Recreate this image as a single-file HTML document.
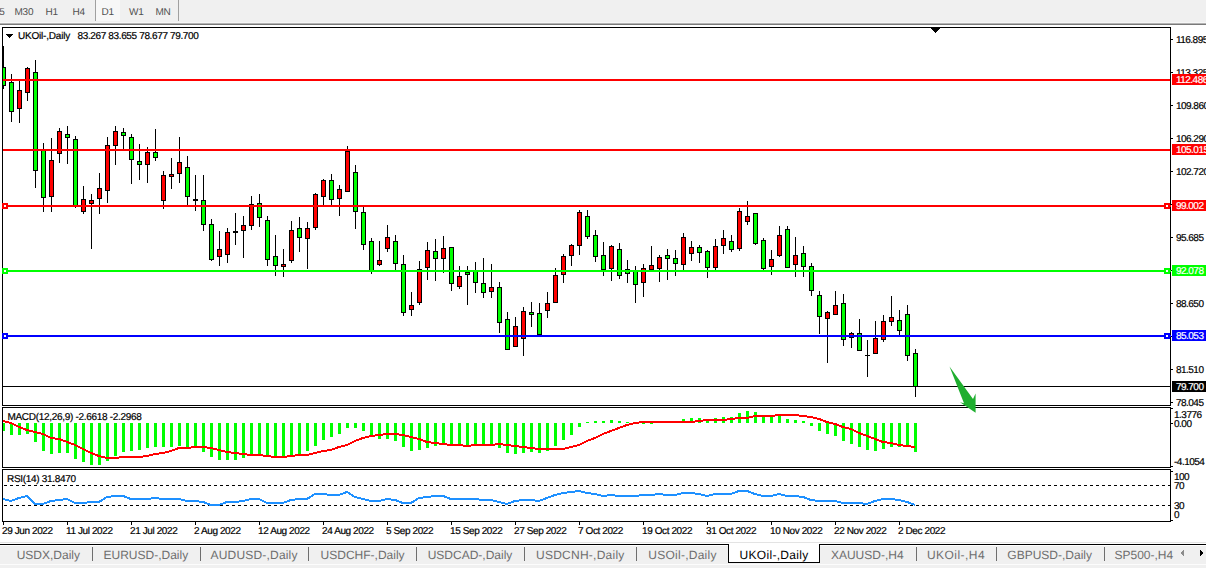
<!DOCTYPE html>
<html><head><meta charset="utf-8"><title>UKOil Daily</title>
<style>
html,body{margin:0;padding:0;background:#fff;width:1206px;height:568px;overflow:hidden;}
svg{display:block;font-family:"Liberation Sans",sans-serif;}
text{text-rendering:geometricPrecision;}
</style></head><body>
<svg width="1206" height="568" viewBox="0 0 1206 568" shape-rendering="crispEdges" font-family="Liberation Sans, sans-serif">
<defs>
<clipPath id="cmain"><rect x="3" y="28" width="1167" height="377"/></clipPath>
<clipPath id="cmacd"><rect x="3" y="408" width="1167" height="59"/></clipPath>
<clipPath id="crsi"><rect x="3" y="470" width="1167" height="51"/></clipPath>
</defs>
<rect width="1206" height="568" fill="#fff"/>
<rect x="0" y="0" width="1206" height="22" fill="#f0f0f0"/>
<rect x="0" y="22" width="1206" height="1" fill="#f7f7f7"/>
<rect x="0" y="23" width="1206" height="1" fill="#b4b4b4"/>
<rect x="0" y="24" width="1206" height="1" fill="#7a7a7a"/>
<rect x="96" y="0" width="24" height="21" fill="#f7f7f7"/>
<rect x="95" y="0" width="1" height="21" fill="#a0a0a0"/>
<rect x="178" y="0" width="1" height="21" fill="#a0a0a0"/>
<text x="-0.8" y="15" font-size="10" fill="#505050" letter-spacing="-0.3">5</text>
<text x="14.6" y="15" font-size="10" fill="#505050" letter-spacing="-0.3">M30</text>
<text x="45.6" y="15" font-size="10" fill="#505050" letter-spacing="-0.3">H1</text>
<text x="72.5" y="15" font-size="10" fill="#505050" letter-spacing="-0.3">H4</text>
<text x="101.5" y="15" font-size="10" fill="#505050" letter-spacing="-0.3">D1</text>
<text x="129" y="15" font-size="10" fill="#505050" letter-spacing="-0.3">W1</text>
<text x="155.4" y="15" font-size="10" fill="#505050" letter-spacing="-0.3">MN</text>
<rect x="2" y="27" width="1169" height="1" fill="#000"/>
<rect x="2" y="405" width="1169" height="1" fill="#000"/>
<rect x="2" y="27" width="1" height="379" fill="#000"/>
<rect x="1170" y="27" width="1" height="379" fill="#000"/>
<rect x="2" y="407" width="1169" height="1" fill="#000"/>
<rect x="2" y="467" width="1169" height="1" fill="#000"/>
<rect x="2" y="407" width="1" height="61" fill="#000"/>
<rect x="1170" y="407" width="1" height="61" fill="#000"/>
<rect x="2" y="469" width="1169" height="1" fill="#000"/>
<rect x="2" y="521" width="1169" height="1" fill="#000"/>
<rect x="2" y="469" width="1" height="53" fill="#000"/>
<rect x="1170" y="469" width="1" height="53" fill="#000"/>
<g clip-path="url(#cmain)">
<rect x="3" y="46" width="1" height="43" fill="#000"/>
<rect x="1" y="67" width="5" height="19" fill="#000"/>
<rect x="2" y="68" width="3" height="17" fill="#00ff00"/>
<rect x="11" y="74" width="1" height="48" fill="#000"/>
<rect x="9" y="82" width="5" height="30" fill="#000"/>
<rect x="10" y="83" width="3" height="28" fill="#00ff00"/>
<rect x="19" y="81" width="1" height="42" fill="#000"/>
<rect x="17" y="90" width="5" height="19" fill="#000"/>
<rect x="18" y="91" width="3" height="17" fill="#ff0000"/>
<rect x="27" y="67" width="1" height="34" fill="#000"/>
<rect x="25" y="68" width="5" height="25" fill="#000"/>
<rect x="26" y="69" width="3" height="23" fill="#ff0000"/>
<rect x="35" y="60" width="1" height="128" fill="#000"/>
<rect x="33" y="72" width="5" height="99" fill="#000"/>
<rect x="34" y="73" width="3" height="97" fill="#00ff00"/>
<rect x="43" y="143" width="1" height="69" fill="#000"/>
<rect x="41" y="150" width="5" height="48" fill="#000"/>
<rect x="42" y="151" width="3" height="46" fill="#00ff00"/>
<rect x="51" y="138" width="1" height="74" fill="#000"/>
<rect x="49" y="160" width="5" height="37" fill="#000"/>
<rect x="50" y="161" width="3" height="35" fill="#ff0000"/>
<rect x="59" y="128" width="1" height="35" fill="#000"/>
<rect x="57" y="131" width="5" height="23" fill="#000"/>
<rect x="58" y="132" width="3" height="21" fill="#ff0000"/>
<rect x="67" y="126" width="1" height="38" fill="#000"/>
<rect x="65" y="134" width="5" height="4" fill="#000"/>
<rect x="66" y="135" width="3" height="2" fill="#00ff00"/>
<rect x="75" y="136" width="1" height="72" fill="#000"/>
<rect x="73" y="139" width="5" height="67" fill="#000"/>
<rect x="74" y="140" width="3" height="65" fill="#00ff00"/>
<rect x="83" y="186" width="1" height="28" fill="#000"/>
<rect x="81" y="199" width="5" height="13" fill="#000"/>
<rect x="82" y="200" width="3" height="11" fill="#ff0000"/>
<rect x="91" y="194" width="1" height="55" fill="#000"/>
<rect x="89" y="200" width="5" height="4" fill="#000"/>
<rect x="90" y="201" width="3" height="2" fill="#ff0000"/>
<rect x="99" y="173" width="1" height="41" fill="#000"/>
<rect x="97" y="188" width="5" height="11" fill="#000"/>
<rect x="98" y="189" width="3" height="9" fill="#ff0000"/>
<rect x="107" y="137" width="1" height="66" fill="#000"/>
<rect x="105" y="145" width="5" height="46" fill="#000"/>
<rect x="106" y="146" width="3" height="44" fill="#ff0000"/>
<rect x="115" y="126" width="1" height="39" fill="#000"/>
<rect x="113" y="131" width="5" height="15" fill="#000"/>
<rect x="114" y="132" width="3" height="13" fill="#ff0000"/>
<rect x="123" y="128" width="1" height="21" fill="#000"/>
<rect x="121" y="132" width="5" height="4" fill="#000"/>
<rect x="122" y="133" width="3" height="2" fill="#00ff00"/>
<rect x="131" y="134" width="1" height="50" fill="#000"/>
<rect x="129" y="137" width="5" height="23" fill="#000"/>
<rect x="130" y="138" width="3" height="21" fill="#00ff00"/>
<rect x="139" y="144" width="1" height="36" fill="#000"/>
<rect x="137" y="161" width="5" height="4" fill="#000"/>
<rect x="138" y="162" width="3" height="2" fill="#00ff00"/>
<rect x="147" y="147" width="1" height="36" fill="#000"/>
<rect x="145" y="152" width="5" height="13" fill="#000"/>
<rect x="146" y="153" width="3" height="11" fill="#ff0000"/>
<rect x="155" y="129" width="1" height="32" fill="#000"/>
<rect x="153" y="152" width="5" height="6" fill="#000"/>
<rect x="154" y="153" width="3" height="4" fill="#00ff00"/>
<rect x="163" y="171" width="1" height="38" fill="#000"/>
<rect x="161" y="175" width="5" height="26" fill="#000"/>
<rect x="162" y="176" width="3" height="24" fill="#ff0000"/>
<rect x="171" y="158" width="1" height="31" fill="#000"/>
<rect x="169" y="174" width="5" height="3" fill="#000"/>
<rect x="170" y="175" width="3" height="1" fill="#ff0000"/>
<rect x="179" y="137" width="1" height="46" fill="#000"/>
<rect x="177" y="162" width="5" height="12" fill="#000"/>
<rect x="178" y="163" width="3" height="10" fill="#ff0000"/>
<rect x="187" y="156" width="1" height="49" fill="#000"/>
<rect x="185" y="167" width="5" height="30" fill="#000"/>
<rect x="186" y="168" width="3" height="28" fill="#00ff00"/>
<rect x="195" y="175" width="1" height="36" fill="#000"/>
<rect x="193" y="199" width="5" height="2" fill="#000"/>
<rect x="203" y="175" width="1" height="56" fill="#000"/>
<rect x="201" y="200" width="5" height="25" fill="#000"/>
<rect x="202" y="201" width="3" height="23" fill="#00ff00"/>
<rect x="211" y="219" width="1" height="42" fill="#000"/>
<rect x="209" y="224" width="5" height="36" fill="#000"/>
<rect x="210" y="225" width="3" height="34" fill="#00ff00"/>
<rect x="219" y="231" width="1" height="35" fill="#000"/>
<rect x="217" y="249" width="5" height="8" fill="#000"/>
<rect x="218" y="250" width="3" height="6" fill="#ff0000"/>
<rect x="227" y="228" width="1" height="35" fill="#000"/>
<rect x="225" y="232" width="5" height="23" fill="#000"/>
<rect x="226" y="233" width="3" height="21" fill="#ff0000"/>
<rect x="235" y="213" width="1" height="32" fill="#000"/>
<rect x="233" y="231" width="5" height="2" fill="#000"/>
<rect x="243" y="216" width="1" height="42" fill="#000"/>
<rect x="241" y="225" width="5" height="6" fill="#000"/>
<rect x="242" y="226" width="3" height="4" fill="#ff0000"/>
<rect x="251" y="196" width="1" height="34" fill="#000"/>
<rect x="249" y="204" width="5" height="22" fill="#000"/>
<rect x="250" y="205" width="3" height="20" fill="#ff0000"/>
<rect x="259" y="194" width="1" height="33" fill="#000"/>
<rect x="257" y="203" width="5" height="15" fill="#000"/>
<rect x="258" y="204" width="3" height="13" fill="#00ff00"/>
<rect x="267" y="216" width="1" height="50" fill="#000"/>
<rect x="265" y="220" width="5" height="40" fill="#000"/>
<rect x="266" y="221" width="3" height="38" fill="#00ff00"/>
<rect x="275" y="235" width="1" height="41" fill="#000"/>
<rect x="273" y="256" width="5" height="10" fill="#000"/>
<rect x="274" y="257" width="3" height="8" fill="#00ff00"/>
<rect x="283" y="249" width="1" height="28" fill="#000"/>
<rect x="281" y="264" width="5" height="3" fill="#000"/>
<rect x="282" y="265" width="3" height="1" fill="#ff0000"/>
<rect x="291" y="221" width="1" height="42" fill="#000"/>
<rect x="289" y="230" width="5" height="31" fill="#000"/>
<rect x="290" y="231" width="3" height="29" fill="#ff0000"/>
<rect x="299" y="217" width="1" height="35" fill="#000"/>
<rect x="297" y="228" width="5" height="10" fill="#000"/>
<rect x="298" y="229" width="3" height="8" fill="#00ff00"/>
<rect x="307" y="222" width="1" height="47" fill="#000"/>
<rect x="305" y="228" width="5" height="11" fill="#000"/>
<rect x="306" y="229" width="3" height="9" fill="#ff0000"/>
<rect x="315" y="193" width="1" height="37" fill="#000"/>
<rect x="313" y="194" width="5" height="34" fill="#000"/>
<rect x="314" y="195" width="3" height="32" fill="#ff0000"/>
<rect x="323" y="179" width="1" height="26" fill="#000"/>
<rect x="321" y="180" width="5" height="17" fill="#000"/>
<rect x="322" y="181" width="3" height="15" fill="#ff0000"/>
<rect x="331" y="174" width="1" height="31" fill="#000"/>
<rect x="329" y="180" width="5" height="20" fill="#000"/>
<rect x="330" y="181" width="3" height="18" fill="#00ff00"/>
<rect x="339" y="185" width="1" height="31" fill="#000"/>
<rect x="337" y="189" width="5" height="10" fill="#000"/>
<rect x="338" y="190" width="3" height="8" fill="#ff0000"/>
<rect x="347" y="146" width="1" height="46" fill="#000"/>
<rect x="345" y="151" width="5" height="41" fill="#000"/>
<rect x="346" y="152" width="3" height="39" fill="#ff0000"/>
<rect x="355" y="165" width="1" height="64" fill="#000"/>
<rect x="353" y="172" width="5" height="40" fill="#000"/>
<rect x="354" y="173" width="3" height="38" fill="#00ff00"/>
<rect x="363" y="207" width="1" height="43" fill="#000"/>
<rect x="361" y="212" width="5" height="33" fill="#000"/>
<rect x="362" y="213" width="3" height="31" fill="#00ff00"/>
<rect x="371" y="238" width="1" height="36" fill="#000"/>
<rect x="369" y="241" width="5" height="30" fill="#000"/>
<rect x="370" y="242" width="3" height="28" fill="#00ff00"/>
<rect x="379" y="241" width="1" height="25" fill="#000"/>
<rect x="377" y="260" width="5" height="5" fill="#000"/>
<rect x="378" y="261" width="3" height="3" fill="#ff0000"/>
<rect x="387" y="225" width="1" height="27" fill="#000"/>
<rect x="385" y="237" width="5" height="12" fill="#000"/>
<rect x="386" y="238" width="3" height="10" fill="#ff0000"/>
<rect x="395" y="235" width="1" height="35" fill="#000"/>
<rect x="393" y="241" width="5" height="23" fill="#000"/>
<rect x="394" y="242" width="3" height="21" fill="#00ff00"/>
<rect x="403" y="255" width="1" height="61" fill="#000"/>
<rect x="401" y="264" width="5" height="49" fill="#000"/>
<rect x="402" y="265" width="3" height="47" fill="#00ff00"/>
<rect x="411" y="292" width="1" height="24" fill="#000"/>
<rect x="409" y="305" width="5" height="5" fill="#000"/>
<rect x="410" y="306" width="3" height="3" fill="#ff0000"/>
<rect x="419" y="261" width="1" height="44" fill="#000"/>
<rect x="417" y="269" width="5" height="34" fill="#000"/>
<rect x="418" y="270" width="3" height="32" fill="#ff0000"/>
<rect x="427" y="242" width="1" height="38" fill="#000"/>
<rect x="425" y="250" width="5" height="18" fill="#000"/>
<rect x="426" y="251" width="3" height="16" fill="#ff0000"/>
<rect x="435" y="239" width="1" height="42" fill="#000"/>
<rect x="433" y="251" width="5" height="8" fill="#000"/>
<rect x="434" y="252" width="3" height="6" fill="#00ff00"/>
<rect x="443" y="236" width="1" height="37" fill="#000"/>
<rect x="441" y="248" width="5" height="11" fill="#000"/>
<rect x="442" y="249" width="3" height="9" fill="#ff0000"/>
<rect x="451" y="247" width="1" height="44" fill="#000"/>
<rect x="449" y="247" width="5" height="37" fill="#000"/>
<rect x="450" y="248" width="3" height="35" fill="#00ff00"/>
<rect x="459" y="266" width="1" height="23" fill="#000"/>
<rect x="457" y="276" width="5" height="11" fill="#000"/>
<rect x="458" y="277" width="3" height="9" fill="#ff0000"/>
<rect x="467" y="266" width="1" height="39" fill="#000"/>
<rect x="465" y="272" width="5" height="3" fill="#000"/>
<rect x="466" y="273" width="3" height="1" fill="#00ff00"/>
<rect x="475" y="262" width="1" height="31" fill="#000"/>
<rect x="473" y="271" width="5" height="12" fill="#000"/>
<rect x="474" y="272" width="3" height="10" fill="#00ff00"/>
<rect x="483" y="258" width="1" height="40" fill="#000"/>
<rect x="481" y="283" width="5" height="10" fill="#000"/>
<rect x="482" y="284" width="3" height="8" fill="#00ff00"/>
<rect x="491" y="264" width="1" height="34" fill="#000"/>
<rect x="489" y="287" width="5" height="5" fill="#000"/>
<rect x="490" y="288" width="3" height="3" fill="#ff0000"/>
<rect x="499" y="282" width="1" height="51" fill="#000"/>
<rect x="497" y="287" width="5" height="36" fill="#000"/>
<rect x="498" y="288" width="3" height="34" fill="#00ff00"/>
<rect x="507" y="312" width="1" height="38" fill="#000"/>
<rect x="505" y="319" width="5" height="31" fill="#000"/>
<rect x="506" y="320" width="3" height="29" fill="#00ff00"/>
<rect x="515" y="317" width="1" height="30" fill="#000"/>
<rect x="513" y="326" width="5" height="21" fill="#000"/>
<rect x="514" y="327" width="3" height="19" fill="#ff0000"/>
<rect x="523" y="307" width="1" height="49" fill="#000"/>
<rect x="521" y="311" width="5" height="28" fill="#000"/>
<rect x="522" y="312" width="3" height="26" fill="#ff0000"/>
<rect x="531" y="302" width="1" height="25" fill="#000"/>
<rect x="529" y="312" width="5" height="3" fill="#000"/>
<rect x="530" y="313" width="3" height="1" fill="#00ff00"/>
<rect x="539" y="303" width="1" height="34" fill="#000"/>
<rect x="537" y="313" width="5" height="22" fill="#000"/>
<rect x="538" y="314" width="3" height="20" fill="#00ff00"/>
<rect x="547" y="292" width="1" height="26" fill="#000"/>
<rect x="545" y="303" width="5" height="8" fill="#000"/>
<rect x="546" y="304" width="3" height="6" fill="#ff0000"/>
<rect x="555" y="268" width="1" height="35" fill="#000"/>
<rect x="553" y="275" width="5" height="28" fill="#000"/>
<rect x="554" y="276" width="3" height="26" fill="#ff0000"/>
<rect x="563" y="254" width="1" height="29" fill="#000"/>
<rect x="561" y="256" width="5" height="19" fill="#000"/>
<rect x="562" y="257" width="3" height="17" fill="#ff0000"/>
<rect x="571" y="244" width="1" height="22" fill="#000"/>
<rect x="569" y="245" width="5" height="11" fill="#000"/>
<rect x="570" y="246" width="3" height="9" fill="#ff0000"/>
<rect x="579" y="210" width="1" height="45" fill="#000"/>
<rect x="577" y="212" width="5" height="34" fill="#000"/>
<rect x="578" y="213" width="3" height="32" fill="#ff0000"/>
<rect x="587" y="210" width="1" height="29" fill="#000"/>
<rect x="585" y="216" width="5" height="21" fill="#000"/>
<rect x="586" y="217" width="3" height="19" fill="#00ff00"/>
<rect x="595" y="230" width="1" height="32" fill="#000"/>
<rect x="593" y="235" width="5" height="22" fill="#000"/>
<rect x="594" y="236" width="3" height="20" fill="#00ff00"/>
<rect x="603" y="242" width="1" height="34" fill="#000"/>
<rect x="601" y="255" width="5" height="15" fill="#000"/>
<rect x="602" y="256" width="3" height="13" fill="#00ff00"/>
<rect x="611" y="245" width="1" height="36" fill="#000"/>
<rect x="609" y="246" width="5" height="23" fill="#000"/>
<rect x="610" y="247" width="3" height="21" fill="#ff0000"/>
<rect x="619" y="243" width="1" height="36" fill="#000"/>
<rect x="617" y="249" width="5" height="27" fill="#000"/>
<rect x="618" y="250" width="3" height="25" fill="#00ff00"/>
<rect x="627" y="260" width="1" height="23" fill="#000"/>
<rect x="625" y="269" width="5" height="5" fill="#000"/>
<rect x="626" y="270" width="3" height="3" fill="#00ff00"/>
<rect x="635" y="266" width="1" height="37" fill="#000"/>
<rect x="633" y="271" width="5" height="14" fill="#000"/>
<rect x="634" y="272" width="3" height="12" fill="#00ff00"/>
<rect x="643" y="264" width="1" height="33" fill="#000"/>
<rect x="641" y="268" width="5" height="15" fill="#000"/>
<rect x="642" y="269" width="3" height="13" fill="#ff0000"/>
<rect x="651" y="246" width="1" height="26" fill="#000"/>
<rect x="649" y="265" width="5" height="5" fill="#000"/>
<rect x="650" y="266" width="3" height="3" fill="#ff0000"/>
<rect x="659" y="255" width="1" height="27" fill="#000"/>
<rect x="657" y="257" width="5" height="12" fill="#000"/>
<rect x="658" y="258" width="3" height="10" fill="#ff0000"/>
<rect x="667" y="249" width="1" height="31" fill="#000"/>
<rect x="665" y="255" width="5" height="4" fill="#000"/>
<rect x="666" y="256" width="3" height="2" fill="#00ff00"/>
<rect x="675" y="250" width="1" height="26" fill="#000"/>
<rect x="673" y="258" width="5" height="6" fill="#000"/>
<rect x="674" y="259" width="3" height="4" fill="#00ff00"/>
<rect x="683" y="233" width="1" height="37" fill="#000"/>
<rect x="681" y="237" width="5" height="28" fill="#000"/>
<rect x="682" y="238" width="3" height="26" fill="#ff0000"/>
<rect x="691" y="241" width="1" height="20" fill="#000"/>
<rect x="689" y="247" width="5" height="7" fill="#000"/>
<rect x="690" y="248" width="3" height="5" fill="#ff0000"/>
<rect x="699" y="245" width="1" height="18" fill="#000"/>
<rect x="697" y="247" width="5" height="6" fill="#000"/>
<rect x="698" y="248" width="3" height="4" fill="#00ff00"/>
<rect x="707" y="250" width="1" height="28" fill="#000"/>
<rect x="705" y="251" width="5" height="17" fill="#000"/>
<rect x="706" y="252" width="3" height="15" fill="#00ff00"/>
<rect x="715" y="239" width="1" height="31" fill="#000"/>
<rect x="713" y="246" width="5" height="22" fill="#000"/>
<rect x="714" y="247" width="3" height="20" fill="#ff0000"/>
<rect x="723" y="230" width="1" height="24" fill="#000"/>
<rect x="721" y="238" width="5" height="8" fill="#000"/>
<rect x="722" y="239" width="3" height="6" fill="#ff0000"/>
<rect x="731" y="235" width="1" height="17" fill="#000"/>
<rect x="729" y="241" width="5" height="9" fill="#000"/>
<rect x="730" y="242" width="3" height="7" fill="#00ff00"/>
<rect x="739" y="208" width="1" height="43" fill="#000"/>
<rect x="737" y="211" width="5" height="38" fill="#000"/>
<rect x="738" y="212" width="3" height="36" fill="#ff0000"/>
<rect x="747" y="201" width="1" height="24" fill="#000"/>
<rect x="745" y="216" width="5" height="6" fill="#000"/>
<rect x="746" y="217" width="3" height="4" fill="#ff0000"/>
<rect x="755" y="213" width="1" height="32" fill="#000"/>
<rect x="753" y="213" width="5" height="31" fill="#000"/>
<rect x="754" y="214" width="3" height="29" fill="#00ff00"/>
<rect x="763" y="238" width="1" height="32" fill="#000"/>
<rect x="761" y="240" width="5" height="29" fill="#000"/>
<rect x="762" y="241" width="3" height="27" fill="#00ff00"/>
<rect x="771" y="250" width="1" height="25" fill="#000"/>
<rect x="769" y="259" width="5" height="8" fill="#000"/>
<rect x="770" y="260" width="3" height="6" fill="#ff0000"/>
<rect x="779" y="226" width="1" height="31" fill="#000"/>
<rect x="777" y="235" width="5" height="21" fill="#000"/>
<rect x="778" y="236" width="3" height="19" fill="#ff0000"/>
<rect x="787" y="226" width="1" height="42" fill="#000"/>
<rect x="785" y="229" width="5" height="39" fill="#000"/>
<rect x="786" y="230" width="3" height="37" fill="#00ff00"/>
<rect x="795" y="237" width="1" height="40" fill="#000"/>
<rect x="793" y="255" width="5" height="10" fill="#000"/>
<rect x="794" y="256" width="3" height="8" fill="#ff0000"/>
<rect x="803" y="246" width="1" height="31" fill="#000"/>
<rect x="801" y="253" width="5" height="14" fill="#000"/>
<rect x="802" y="254" width="3" height="12" fill="#00ff00"/>
<rect x="811" y="263" width="1" height="33" fill="#000"/>
<rect x="809" y="266" width="5" height="25" fill="#000"/>
<rect x="810" y="267" width="3" height="23" fill="#00ff00"/>
<rect x="819" y="291" width="1" height="43" fill="#000"/>
<rect x="817" y="295" width="5" height="22" fill="#000"/>
<rect x="818" y="296" width="3" height="20" fill="#00ff00"/>
<rect x="827" y="311" width="1" height="52" fill="#000"/>
<rect x="825" y="312" width="5" height="7" fill="#000"/>
<rect x="826" y="313" width="3" height="5" fill="#ff0000"/>
<rect x="835" y="291" width="1" height="24" fill="#000"/>
<rect x="833" y="305" width="5" height="10" fill="#000"/>
<rect x="834" y="306" width="3" height="8" fill="#ff0000"/>
<rect x="843" y="294" width="1" height="52" fill="#000"/>
<rect x="841" y="303" width="5" height="37" fill="#000"/>
<rect x="842" y="304" width="3" height="35" fill="#00ff00"/>
<rect x="851" y="332" width="1" height="16" fill="#000"/>
<rect x="849" y="333" width="5" height="5" fill="#000"/>
<rect x="850" y="334" width="3" height="3" fill="#ff0000"/>
<rect x="859" y="319" width="1" height="32" fill="#000"/>
<rect x="857" y="333" width="5" height="18" fill="#000"/>
<rect x="858" y="334" width="3" height="16" fill="#00ff00"/>
<rect x="867" y="340" width="1" height="37" fill="#000"/>
<rect x="865" y="355" width="5" height="1" fill="#000"/>
<rect x="875" y="321" width="1" height="33" fill="#000"/>
<rect x="873" y="338" width="5" height="16" fill="#000"/>
<rect x="874" y="339" width="3" height="14" fill="#ff0000"/>
<rect x="883" y="315" width="1" height="27" fill="#000"/>
<rect x="881" y="321" width="5" height="19" fill="#000"/>
<rect x="882" y="322" width="3" height="17" fill="#ff0000"/>
<rect x="891" y="296" width="1" height="30" fill="#000"/>
<rect x="889" y="317" width="5" height="5" fill="#000"/>
<rect x="890" y="318" width="3" height="3" fill="#ff0000"/>
<rect x="899" y="310" width="1" height="25" fill="#000"/>
<rect x="897" y="320" width="5" height="11" fill="#000"/>
<rect x="898" y="321" width="3" height="9" fill="#00ff00"/>
<rect x="907" y="305" width="1" height="56" fill="#000"/>
<rect x="905" y="314" width="5" height="42" fill="#000"/>
<rect x="906" y="315" width="3" height="40" fill="#00ff00"/>
<rect x="915" y="349" width="1" height="48" fill="#000"/>
<rect x="913" y="353" width="5" height="34" fill="#000"/>
<rect x="914" y="354" width="3" height="32" fill="#00ff00"/>
</g>
<rect x="3" y="79" width="1167" height="2" fill="#ff0000"/>
<rect x="3" y="149" width="1167" height="2" fill="#ff0000"/>
<rect x="3" y="205" width="1167" height="2" fill="#ff0000"/>
<rect x="3" y="270" width="1167" height="2" fill="#00ff00"/>
<rect x="3" y="335" width="1167" height="2" fill="#0000ff"/>
<rect x="3" y="386" width="1167" height="1" fill="#000"/>
<rect x="2" y="203" width="6" height="6" fill="#ff0000"/>
<rect x="4" y="205" width="2" height="2" fill="#fff"/>
<rect x="1164" y="203" width="6" height="6" fill="#ff0000"/>
<rect x="1166" y="205" width="2" height="2" fill="#fff"/>
<rect x="1170" y="205" width="1" height="2" fill="#ff0000"/>
<rect x="2" y="268" width="6" height="6" fill="#00ff00"/>
<rect x="4" y="270" width="2" height="2" fill="#fff"/>
<rect x="1164" y="268" width="6" height="6" fill="#00ff00"/>
<rect x="1166" y="270" width="2" height="2" fill="#fff"/>
<rect x="1170" y="270" width="1" height="2" fill="#00ff00"/>
<rect x="2" y="333" width="6" height="6" fill="#0000ff"/>
<rect x="4" y="335" width="2" height="2" fill="#fff"/>
<rect x="1164" y="333" width="6" height="6" fill="#0000ff"/>
<rect x="1166" y="335" width="2" height="2" fill="#fff"/>
<rect x="1170" y="335" width="1" height="2" fill="#0000ff"/>
<rect x="931" y="28" width="9" height="1" fill="#000"/>
<rect x="932" y="29" width="7" height="1" fill="#000"/>
<rect x="933" y="30" width="5" height="1" fill="#000"/>
<rect x="934" y="31" width="3" height="1" fill="#000"/>
<rect x="935" y="32" width="1" height="1" fill="#000"/>
<polygon points="949.5,366.5 973,399 975.6,393.5 975.6,412.8 960,402.3 964,403.2" fill="#1fae2f" shape-rendering="auto"/>
<rect x="1171" y="39" width="2" height="1" fill="#000"/>
<text x="1175.9" y="43" font-size="10" fill="#000" letter-spacing="-0.5" stroke="#000" stroke-width="0.2">116.895</text>
<rect x="1171" y="72" width="2" height="1" fill="#000"/>
<text x="1175.9" y="76" font-size="10" fill="#000" letter-spacing="-0.5" stroke="#000" stroke-width="0.2">113.325</text>
<rect x="1171" y="105" width="2" height="1" fill="#000"/>
<text x="1175.9" y="109" font-size="10" fill="#000" letter-spacing="-0.5" stroke="#000" stroke-width="0.2">109.860</text>
<rect x="1171" y="138" width="2" height="1" fill="#000"/>
<text x="1175.9" y="142" font-size="10" fill="#000" letter-spacing="-0.5" stroke="#000" stroke-width="0.2">106.290</text>
<rect x="1171" y="171" width="2" height="1" fill="#000"/>
<text x="1175.9" y="175" font-size="10" fill="#000" letter-spacing="-0.5" stroke="#000" stroke-width="0.2">102.720</text>
<rect x="1171" y="204" width="2" height="1" fill="#000"/>
<rect x="1171" y="237" width="2" height="1" fill="#000"/>
<text x="1175.9" y="241" font-size="10" fill="#000" letter-spacing="-0.5" stroke="#000" stroke-width="0.2">95.685</text>
<rect x="1171" y="270" width="2" height="1" fill="#000"/>
<rect x="1171" y="303" width="2" height="1" fill="#000"/>
<text x="1175.9" y="307" font-size="10" fill="#000" letter-spacing="-0.5" stroke="#000" stroke-width="0.2">88.650</text>
<rect x="1171" y="336" width="2" height="1" fill="#000"/>
<rect x="1171" y="369" width="2" height="1" fill="#000"/>
<text x="1175.9" y="373" font-size="10" fill="#000" letter-spacing="-0.5" stroke="#000" stroke-width="0.2">81.510</text>
<rect x="1171" y="402" width="2" height="1" fill="#000"/>
<text x="1175.9" y="406" font-size="10" fill="#000" letter-spacing="-0.5" stroke="#000" stroke-width="0.2">78.045</text>
<rect x="1172" y="74" width="34" height="11" fill="#ff0000"/>
<text x="1175.9" y="83" font-size="10" fill="#fff" letter-spacing="-0.5" stroke="#fff" stroke-width="0.2">112.486</text>
<rect x="1172" y="144" width="34" height="11" fill="#ff0000"/>
<text x="1175.9" y="153" font-size="10" fill="#fff" letter-spacing="-0.5" stroke="#fff" stroke-width="0.2">105.015</text>
<rect x="1172" y="200" width="34" height="11" fill="#ff0000"/>
<text x="1175.9" y="209" font-size="10" fill="#fff" letter-spacing="-0.5" stroke="#fff" stroke-width="0.2">99.002</text>
<rect x="1172" y="265" width="34" height="11" fill="#00ff00"/>
<text x="1175.9" y="274" font-size="10" fill="#fff" letter-spacing="-0.5" stroke="#fff" stroke-width="0.2">92.078</text>
<rect x="1172" y="330" width="34" height="11" fill="#0000ff"/>
<text x="1175.9" y="339" font-size="10" fill="#fff" letter-spacing="-0.5" stroke="#fff" stroke-width="0.2">85.053</text>
<rect x="1172" y="381" width="34" height="11" fill="#000"/>
<text x="1175.9" y="390" font-size="10" fill="#fff" letter-spacing="-0.5" stroke="#fff" stroke-width="0.2">79.700</text>
<g clip-path="url(#cmacd)">
<rect x="2" y="423" width="3" height="8" fill="#00ff00"/>
<rect x="10" y="423" width="3" height="12" fill="#00ff00"/>
<rect x="18" y="423" width="3" height="12" fill="#00ff00"/>
<rect x="26" y="423" width="3" height="11" fill="#00ff00"/>
<rect x="34" y="423" width="3" height="19" fill="#00ff00"/>
<rect x="42" y="423" width="3" height="28" fill="#00ff00"/>
<rect x="50" y="423" width="3" height="31" fill="#00ff00"/>
<rect x="58" y="423" width="3" height="30" fill="#00ff00"/>
<rect x="66" y="423" width="3" height="30" fill="#00ff00"/>
<rect x="74" y="423" width="3" height="36" fill="#00ff00"/>
<rect x="82" y="423" width="3" height="39" fill="#00ff00"/>
<rect x="90" y="423" width="3" height="42" fill="#00ff00"/>
<rect x="98" y="423" width="3" height="42" fill="#00ff00"/>
<rect x="106" y="423" width="3" height="38" fill="#00ff00"/>
<rect x="114" y="423" width="3" height="33" fill="#00ff00"/>
<rect x="122" y="423" width="3" height="29" fill="#00ff00"/>
<rect x="130" y="423" width="3" height="28" fill="#00ff00"/>
<rect x="138" y="423" width="3" height="27" fill="#00ff00"/>
<rect x="146" y="423" width="3" height="25" fill="#00ff00"/>
<rect x="154" y="423" width="3" height="24" fill="#00ff00"/>
<rect x="162" y="423" width="3" height="24" fill="#00ff00"/>
<rect x="170" y="423" width="3" height="24" fill="#00ff00"/>
<rect x="178" y="423" width="3" height="23" fill="#00ff00"/>
<rect x="186" y="423" width="3" height="24" fill="#00ff00"/>
<rect x="194" y="423" width="3" height="25" fill="#00ff00"/>
<rect x="202" y="423" width="3" height="29" fill="#00ff00"/>
<rect x="210" y="423" width="3" height="34" fill="#00ff00"/>
<rect x="218" y="423" width="3" height="37" fill="#00ff00"/>
<rect x="226" y="423" width="3" height="37" fill="#00ff00"/>
<rect x="234" y="423" width="3" height="37" fill="#00ff00"/>
<rect x="242" y="423" width="3" height="35" fill="#00ff00"/>
<rect x="250" y="423" width="3" height="31" fill="#00ff00"/>
<rect x="258" y="423" width="3" height="31" fill="#00ff00"/>
<rect x="266" y="423" width="3" height="32" fill="#00ff00"/>
<rect x="274" y="423" width="3" height="35" fill="#00ff00"/>
<rect x="282" y="423" width="3" height="33" fill="#00ff00"/>
<rect x="290" y="423" width="3" height="32" fill="#00ff00"/>
<rect x="298" y="423" width="3" height="31" fill="#00ff00"/>
<rect x="306" y="423" width="3" height="28" fill="#00ff00"/>
<rect x="314" y="423" width="3" height="23" fill="#00ff00"/>
<rect x="322" y="423" width="3" height="17" fill="#00ff00"/>
<rect x="330" y="423" width="3" height="14" fill="#00ff00"/>
<rect x="338" y="423" width="3" height="11" fill="#00ff00"/>
<rect x="346" y="423" width="3" height="5" fill="#00ff00"/>
<rect x="354" y="423" width="3" height="5" fill="#00ff00"/>
<rect x="362" y="423" width="3" height="8" fill="#00ff00"/>
<rect x="370" y="423" width="3" height="13" fill="#00ff00"/>
<rect x="378" y="423" width="3" height="16" fill="#00ff00"/>
<rect x="386" y="423" width="3" height="16" fill="#00ff00"/>
<rect x="394" y="423" width="3" height="18" fill="#00ff00"/>
<rect x="402" y="423" width="3" height="24" fill="#00ff00"/>
<rect x="410" y="423" width="3" height="28" fill="#00ff00"/>
<rect x="418" y="423" width="3" height="27" fill="#00ff00"/>
<rect x="426" y="423" width="3" height="25" fill="#00ff00"/>
<rect x="434" y="423" width="3" height="23" fill="#00ff00"/>
<rect x="442" y="423" width="3" height="22" fill="#00ff00"/>
<rect x="450" y="423" width="3" height="22" fill="#00ff00"/>
<rect x="458" y="423" width="3" height="22" fill="#00ff00"/>
<rect x="466" y="423" width="3" height="22" fill="#00ff00"/>
<rect x="474" y="423" width="3" height="22" fill="#00ff00"/>
<rect x="482" y="423" width="3" height="22" fill="#00ff00"/>
<rect x="490" y="423" width="3" height="22" fill="#00ff00"/>
<rect x="498" y="423" width="3" height="25" fill="#00ff00"/>
<rect x="506" y="423" width="3" height="30" fill="#00ff00"/>
<rect x="514" y="423" width="3" height="31" fill="#00ff00"/>
<rect x="522" y="423" width="3" height="30" fill="#00ff00"/>
<rect x="530" y="423" width="3" height="29" fill="#00ff00"/>
<rect x="538" y="423" width="3" height="30" fill="#00ff00"/>
<rect x="546" y="423" width="3" height="28" fill="#00ff00"/>
<rect x="554" y="423" width="3" height="23" fill="#00ff00"/>
<rect x="562" y="423" width="3" height="17" fill="#00ff00"/>
<rect x="570" y="423" width="3" height="12" fill="#00ff00"/>
<rect x="578" y="423" width="3" height="4" fill="#00ff00"/>
<rect x="586" y="422" width="3" height="1" fill="#00ff00"/>
<rect x="594" y="421" width="3" height="2" fill="#00ff00"/>
<rect x="602" y="421" width="3" height="2" fill="#00ff00"/>
<rect x="610" y="420" width="3" height="3" fill="#00ff00"/>
<rect x="618" y="421" width="3" height="2" fill="#00ff00"/>
<rect x="626" y="422" width="3" height="1" fill="#00ff00"/>
<rect x="634" y="422" width="3" height="1" fill="#00ff00"/>
<rect x="642" y="423" width="3" height="1" fill="#00ff00"/>
<rect x="650" y="423" width="3" height="1" fill="#00ff00"/>
<rect x="682" y="419" width="3" height="4" fill="#00ff00"/>
<rect x="690" y="418" width="3" height="5" fill="#00ff00"/>
<rect x="698" y="418" width="3" height="5" fill="#00ff00"/>
<rect x="706" y="419" width="3" height="4" fill="#00ff00"/>
<rect x="714" y="418" width="3" height="5" fill="#00ff00"/>
<rect x="722" y="417" width="3" height="6" fill="#00ff00"/>
<rect x="730" y="417" width="3" height="6" fill="#00ff00"/>
<rect x="738" y="413" width="3" height="10" fill="#00ff00"/>
<rect x="746" y="411" width="3" height="12" fill="#00ff00"/>
<rect x="754" y="412" width="3" height="11" fill="#00ff00"/>
<rect x="762" y="417" width="3" height="6" fill="#00ff00"/>
<rect x="770" y="417" width="3" height="6" fill="#00ff00"/>
<rect x="778" y="416" width="3" height="7" fill="#00ff00"/>
<rect x="786" y="419" width="3" height="4" fill="#00ff00"/>
<rect x="794" y="420" width="3" height="3" fill="#00ff00"/>
<rect x="802" y="421" width="3" height="2" fill="#00ff00"/>
<rect x="810" y="423" width="3" height="3" fill="#00ff00"/>
<rect x="818" y="423" width="3" height="8" fill="#00ff00"/>
<rect x="826" y="423" width="3" height="11" fill="#00ff00"/>
<rect x="834" y="423" width="3" height="13" fill="#00ff00"/>
<rect x="842" y="423" width="3" height="18" fill="#00ff00"/>
<rect x="850" y="423" width="3" height="21" fill="#00ff00"/>
<rect x="858" y="423" width="3" height="24" fill="#00ff00"/>
<rect x="866" y="423" width="3" height="27" fill="#00ff00"/>
<rect x="874" y="423" width="3" height="28" fill="#00ff00"/>
<rect x="882" y="423" width="3" height="26" fill="#00ff00"/>
<rect x="890" y="423" width="3" height="24" fill="#00ff00"/>
<rect x="898" y="423" width="3" height="24" fill="#00ff00"/>
<rect x="906" y="423" width="3" height="24" fill="#00ff00"/>
<rect x="914" y="423" width="3" height="29" fill="#00ff00"/>
<polyline points="3,421 11,423 19,427 27,430 35,432 43,434 51,438 59,439 67,442 75,445 83,449 91,453 99,456 107,458 115,458 123,457 131,457 139,457 147,456 155,454 163,453 171,451 179,448 187,448 195,447 203,447 211,448 219,450 227,452 235,453 243,454 251,455 259,455 267,456 275,457 283,457 291,456 299,455 307,455 315,453 323,451 331,450 339,447 347,445 355,441 363,438 371,436 379,435 387,434 395,434 403,435 411,437 419,439 427,442 435,443 443,444 451,445 459,445 467,446 475,445 483,445 491,445 499,444 507,445 515,446 523,447 531,448 539,449 547,449 555,449 563,449 571,447 579,445 587,441 595,438 603,434 611,431 619,428 627,425 635,423 643,422 651,422 659,422 667,422 675,422 683,422 691,422 699,421 707,420 715,420 723,420 731,419 739,418 747,418 755,416 763,416 771,416 779,415 787,415 795,415 803,416 811,417 819,419 827,422 835,424 843,427 851,429 859,433 867,436 875,439 883,442 891,443 899,445 907,446 915,447" fill="none" stroke="#ff0000" stroke-width="2"/>
</g>
<text x="7.4" y="420" font-size="10" fill="#000" letter-spacing="-0.3" stroke="#000" stroke-width="0.2">MACD(12,26,9) -2.6618 -2.2968</text>
<rect x="1171" y="408" width="2" height="1" fill="#000"/>
<rect x="1171" y="466" width="2" height="1" fill="#000"/>
<rect x="1171" y="423" width="2" height="1" fill="#000"/>
<text x="1174" y="418" font-size="10" fill="#000" letter-spacing="-0.5" stroke="#000" stroke-width="0.2">1.3776</text>
<text x="1174" y="427" font-size="10" fill="#000" letter-spacing="-0.5" stroke="#000" stroke-width="0.2">0.00</text>
<text x="1174" y="465" font-size="10" fill="#000" letter-spacing="-0.5" stroke="#000" stroke-width="0.2">-4.1054</text>
<line x1="4" y1="485.5" x2="1170" y2="485.5" stroke="#000" stroke-width="1" stroke-dasharray="3,3"/>
<line x1="4" y1="505.5" x2="1170" y2="505.5" stroke="#000" stroke-width="1" stroke-dasharray="3,3"/>
<g clip-path="url(#crsi)">
<polyline points="3,499 11,501 19,498 27,496 35,504 43,504 51,501 59,500 67,499 75,503 83,503 91,502 99,502 107,497 115,496 123,496 131,499 139,499 147,499 155,498 163,499 171,499 179,499 187,501 195,501 203,502 211,505 219,505 227,502 235,502 243,501 251,499 259,499 267,503 275,503 283,503 291,500 299,499 307,499 315,494 323,494 331,495 339,495 347,492 355,497 363,499 371,501 379,501 387,499 395,500 403,503 411,503 419,498 427,497 435,496 443,496 451,499 459,499 467,499 475,499 483,500 491,500 499,502 507,504 515,501 523,500 531,500 539,501 547,498 555,495 563,493 571,492 579,491 587,493 595,494 603,496 611,495 619,496 627,496 635,496 643,495 651,495 659,494 667,495 675,495 683,493 691,493 699,494 707,496 715,494 723,494 731,494 739,491 747,491 755,494 763,496 771,496 779,494 787,496 795,496 803,497 811,500 819,501 827,501 835,501 843,503 851,503 859,503 867,504 875,501 883,499 891,499 899,500 907,502 915,505" fill="none" stroke="#1e90ff" stroke-width="2"/>
</g>
<text x="7" y="482" font-size="10" fill="#000" letter-spacing="-0.3" stroke="#000" stroke-width="0.2">RSI(14) 31.8470</text>
<rect x="1171" y="471" width="2" height="1" fill="#000"/>
<rect x="1171" y="520" width="2" height="1" fill="#000"/>
<text x="1174" y="480" font-size="10" fill="#000" letter-spacing="-0.5" stroke="#000" stroke-width="0.2">100</text>
<text x="1174" y="489" font-size="10" fill="#000" letter-spacing="-0.5" stroke="#000" stroke-width="0.2">70</text>
<text x="1174" y="509" font-size="10" fill="#000" letter-spacing="-0.5" stroke="#000" stroke-width="0.2">30</text>
<text x="1174" y="518" font-size="10" fill="#000" letter-spacing="-0.5" stroke="#000" stroke-width="0.2">0</text>
<rect x="3" y="521" width="1" height="4" fill="#000"/>
<text x="2" y="534" font-size="10" fill="#000" letter-spacing="-0.4" stroke="#000" stroke-width="0.2">29 Jun 2022</text>
<rect x="67" y="521" width="1" height="4" fill="#000"/>
<text x="66" y="534" font-size="10" fill="#000" letter-spacing="-0.4" stroke="#000" stroke-width="0.2">11 Jul 2022</text>
<rect x="131" y="521" width="1" height="4" fill="#000"/>
<text x="130" y="534" font-size="10" fill="#000" letter-spacing="-0.4" stroke="#000" stroke-width="0.2">21 Jul 2022</text>
<rect x="195" y="521" width="1" height="4" fill="#000"/>
<text x="194" y="534" font-size="10" fill="#000" letter-spacing="-0.4" stroke="#000" stroke-width="0.2">2 Aug 2022</text>
<rect x="259" y="521" width="1" height="4" fill="#000"/>
<text x="258" y="534" font-size="10" fill="#000" letter-spacing="-0.4" stroke="#000" stroke-width="0.2">12 Aug 2022</text>
<rect x="323" y="521" width="1" height="4" fill="#000"/>
<text x="322" y="534" font-size="10" fill="#000" letter-spacing="-0.4" stroke="#000" stroke-width="0.2">24 Aug 2022</text>
<rect x="387" y="521" width="1" height="4" fill="#000"/>
<text x="386" y="534" font-size="10" fill="#000" letter-spacing="-0.4" stroke="#000" stroke-width="0.2">5 Sep 2022</text>
<rect x="451" y="521" width="1" height="4" fill="#000"/>
<text x="450" y="534" font-size="10" fill="#000" letter-spacing="-0.4" stroke="#000" stroke-width="0.2">15 Sep 2022</text>
<rect x="515" y="521" width="1" height="4" fill="#000"/>
<text x="514" y="534" font-size="10" fill="#000" letter-spacing="-0.4" stroke="#000" stroke-width="0.2">27 Sep 2022</text>
<rect x="579" y="521" width="1" height="4" fill="#000"/>
<text x="578" y="534" font-size="10" fill="#000" letter-spacing="-0.4" stroke="#000" stroke-width="0.2">7 Oct 2022</text>
<rect x="643" y="521" width="1" height="4" fill="#000"/>
<text x="642" y="534" font-size="10" fill="#000" letter-spacing="-0.4" stroke="#000" stroke-width="0.2">19 Oct 2022</text>
<rect x="707" y="521" width="1" height="4" fill="#000"/>
<text x="706" y="534" font-size="10" fill="#000" letter-spacing="-0.4" stroke="#000" stroke-width="0.2">31 Oct 2022</text>
<rect x="771" y="521" width="1" height="4" fill="#000"/>
<text x="770" y="534" font-size="10" fill="#000" letter-spacing="-0.4" stroke="#000" stroke-width="0.2">10 Nov 2022</text>
<rect x="835" y="521" width="1" height="4" fill="#000"/>
<text x="834" y="534" font-size="10" fill="#000" letter-spacing="-0.4" stroke="#000" stroke-width="0.2">22 Nov 2022</text>
<rect x="899" y="521" width="1" height="4" fill="#000"/>
<text x="898" y="534" font-size="10" fill="#000" letter-spacing="-0.4" stroke="#000" stroke-width="0.2">2 Dec 2022</text>
<rect x="0" y="542" width="1206" height="1" fill="#e3e3e3"/>
<rect x="0" y="544" width="1206" height="1" fill="#000"/>
<rect x="0" y="545" width="1206" height="1" fill="#ffffff"/>
<rect x="0" y="546" width="1206" height="18" fill="#f0f0f0"/>
<rect x="0" y="564" width="1206" height="1" fill="#fcfcfc"/>
<rect x="0" y="565" width="1206" height="3" fill="#f0f0f0"/>
<rect x="728" y="544" width="92" height="19" fill="#000"/>
<rect x="729" y="544" width="90" height="18" fill="#fff"/>
<text x="16.7" y="559" font-size="12" fill="#6e6e6e">USDX,Daily</text>
<text x="103.5" y="559" font-size="12" fill="#6e6e6e">EURUSD-,Daily</text>
<text x="210.6" y="559" font-size="12" fill="#6e6e6e" letter-spacing="0.18">AUDUSD-,Daily</text>
<text x="320.6" y="559" font-size="12" fill="#6e6e6e">USDCHF-,Daily</text>
<text x="427.7" y="559" font-size="12" fill="#6e6e6e">USDCAD-,Daily</text>
<text x="536" y="559" font-size="12" fill="#6e6e6e" letter-spacing="0.25">USDCNH-,Daily</text>
<text x="648.3" y="559" font-size="12" fill="#6e6e6e" letter-spacing="0.25">USOil-,Daily</text>
<text x="739.6" y="559" font-size="12" fill="#000" letter-spacing="0.3">UKOil-,Daily</text>
<text x="830.9" y="559" font-size="12" fill="#6e6e6e">XAUUSD-,H4</text>
<text x="927" y="559" font-size="12" fill="#6e6e6e" letter-spacing="0.45">UKOil-,H4</text>
<text x="1007.3" y="559" font-size="12" fill="#6e6e6e">GBPUSD-,Daily</text>
<text x="1114.5" y="559" font-size="12" fill="#6e6e6e">SP500-,H4</text>
<rect x="92" y="547" width="1" height="14" fill="#6e6e6e"/>
<rect x="200" y="547" width="1" height="14" fill="#6e6e6e"/>
<rect x="308" y="547" width="1" height="14" fill="#6e6e6e"/>
<rect x="416" y="547" width="1" height="14" fill="#6e6e6e"/>
<rect x="524" y="547" width="1" height="14" fill="#6e6e6e"/>
<rect x="636" y="547" width="1" height="14" fill="#6e6e6e"/>
<rect x="916" y="547" width="1" height="14" fill="#6e6e6e"/>
<rect x="996" y="547" width="1" height="14" fill="#6e6e6e"/>
<rect x="1104" y="547" width="1" height="14" fill="#6e6e6e"/>
<rect x="1183" y="550" width="1" height="1" fill="#8c8c8c"/>
<rect x="1182" y="551" width="2" height="1" fill="#8c8c8c"/>
<rect x="1181" y="552" width="3" height="1" fill="#8c8c8c"/>
<rect x="1181" y="553" width="3" height="1" fill="#8c8c8c"/>
<rect x="1182" y="554" width="2" height="1" fill="#8c8c8c"/>
<rect x="1183" y="555" width="1" height="1" fill="#8c8c8c"/>
<rect x="1200" y="550" width="1" height="1" fill="#000"/>
<rect x="1200" y="551" width="2" height="1" fill="#000"/>
<rect x="1200" y="552" width="3" height="1" fill="#000"/>
<rect x="1200" y="553" width="3" height="1" fill="#000"/>
<rect x="1200" y="554" width="2" height="1" fill="#000"/>
<rect x="1200" y="555" width="1" height="1" fill="#000"/>
<rect x="6" y="34" width="7" height="1" fill="#000"/>
<rect x="7" y="35" width="5" height="1" fill="#000"/>
<rect x="8" y="36" width="3" height="1" fill="#000"/>
<rect x="9" y="37" width="1" height="1" fill="#000"/>
<text x="18.0" y="39" font-size="10" fill="#000" letter-spacing="-0.2" stroke="#000" stroke-width="0.2">UKOil-,Daily</text>
<text x="77.5" y="39" font-size="10" fill="#000" letter-spacing="-0.36" stroke="#000" stroke-width="0.2">83.267 83.655 78.677 79.700</text>
</svg>
</body></html>
